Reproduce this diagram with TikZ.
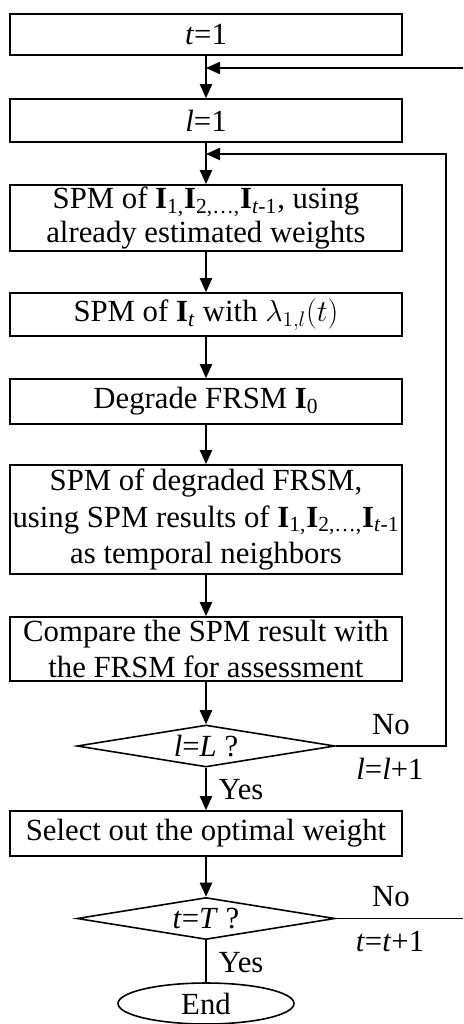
\documentclass[tikz,border=0pt]{standalone}
\usepackage{fontspec}
\setmainfont{Liberation Serif}
\usetikzlibrary{shapes.geometric,arrows.meta}
\newcommand{\bI}[1]{\textbf{I}\textsubscript{#1}}
\begin{document}
\begin{tikzpicture}[x=0.02cm,y=-0.02cm,
  every node/.style={font=\fontsize{17.5}{20.5}\selectfont},
  box/.style={draw, line width=1pt, rectangle, minimum width=7.84cm, inner sep=0pt, align=center},
  dec/.style={draw, line width=0.9pt, diamond, shape aspect=6, minimum width=5.16cm, minimum height=0.84cm, inner sep=0pt},
  term/.style={draw, line width=0.9pt, ellipse, minimum width=3.52cm, minimum height=0.82cm, inner sep=0pt},
  flow/.style={line width=0.9pt, -{Triangle[length=8pt,width=7pt]}},
  conn/.style={line width=0.9pt},
  lbl/.style={inner sep=0pt}]
\useasboundingbox (0,0) rectangle (463,1024);

\node[box, minimum height=0.82cm] (b1) at (206,34.5) {\textit{t}=1};
\node[box, minimum height=0.86cm] (b2) at (206,120.5) {\textit{l}=1};
\node[box, minimum height=1.32cm, font=\fontsize{17.5}{19.3}\selectfont] (b3) at (206,218) {SPM of \bI{1,}\bI{2,\dots,}\bI{\textit{t}-1}, using\\already estimated weights};
\node[box, minimum height=0.86cm] (b4) at (206,314.5) {SPM of \bI{\textit{t}} with $\lambda_{1,l}(t)$};
\node[box, minimum height=0.9cm] (b5) at (206,401.5) {Degrade FRSM \bI{0}};
\node[box, minimum height=2.18cm, font=\fontsize{17.5}{21}\selectfont] (b6) at (206,519.5) {SPM of degraded FRSM,\\using SPM results of \bI{1,}\bI{2,\dots,}\bI{\textit{t}-1}\\as temporal neighbors};
\node[box, minimum height=1.28cm] (b7) at (206,649) {Compare the SPM result with\\the FRSM for assessment};
\node[dec] (d1) at (206,746) {\textit{l}=\textit{L} ?};
\node[box, minimum height=0.9cm] (b8) at (206,833.5) {Select out the optimal weight};
\node[dec] (d2) at (206,918.5) {\textit{t}=\textit{T} ?};
\node[term] (e) at (206,1003.5) {End};

\coordinate (j1) at (206,68);
\coordinate (j2) at (206,154);
\coordinate (in1) at (463,68);
\coordinate (r1) at (446,746);
\coordinate (r1t) at (446,154);
\coordinate (out2) at (463,918.5);

\draw[flow] (b1.south) -- (b2.north);
\draw[flow] (in1) -- (j1);
\draw[flow] (b2.south) -- (b3.north);
\draw[flow] (d1.east) -- (r1) -- (r1t) -- (j2);
\draw[flow] (b3.south) -- (b4.north);
\draw[flow] (b4.south) -- (b5.north);
\draw[flow] (b5.south) -- (b6.north);
\draw[flow] (b6.south) -- (b7.north);
\draw[flow] (b7.south) -- (d1.north);
\draw[flow] (d1.south) -- (b8.north);
\draw[flow] (b8.south) -- (d2.north);
\draw[conn] (d2.south) -- (e.north);
\draw[conn] (d2.east) -- (out2);

\node[lbl] (no1) at (391,725) {No};
\node[lbl] (inc1) at (390,769) {\textit{l}=\textit{l}+1};
\node[lbl] (yes1) at (241,790) {Yes};
\node[lbl] (no2) at (391,897) {No};
\node[lbl] (inc2) at (390,941) {\textit{t}=\textit{t}+1};
\node[lbl] (yes2) at (241,963) {Yes};
\end{tikzpicture}
\end{document}
